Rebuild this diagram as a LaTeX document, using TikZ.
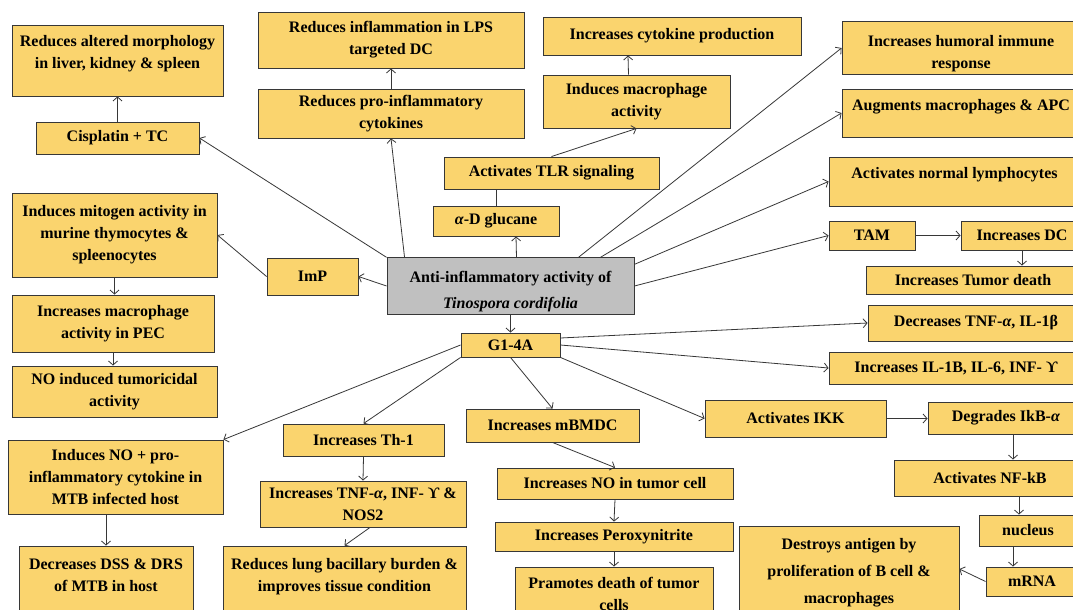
\documentclass[tikz,border=0pt]{standalone}
\usepackage{fontspec}
\setmainfont{Liberation Serif}
\usetikzlibrary{arrows.meta}
\definecolor{boxfill}{RGB}{250,212,110}
\definecolor{hubfill}{RGB}{192,192,192}
\definecolor{edgegray}{RGB}{55,55,55}
\newcommand{\galpha}{\textit{α}}
\newcommand{\gupsilon}{ϒ}

\begin{document}
\begin{tikzpicture}[x=1pt, y=-1pt,
    box/.style={draw=edgegray, fill=boxfill, line width=0.9pt, align=center,
      font=\fontsize{16}{22}\selectfont\bfseries, inner sep=2pt},
    hub/.style={box, fill=hubfill, font=\fontsize{16}{26}\selectfont\bfseries},
    arr/.style={draw=edgegray, line width=0.8pt, -{Straight Barb[length=4pt,width=9pt]}},
    link/.style={draw=edgegray, line width=0.8pt}]
  \useasboundingbox[fill=white] (0,0) rectangle (1073,610);

  % centre
  \node[hub, minimum width=247pt, minimum height=50pt] (main) at (510.5,286)
    {\mbox{}\\[-3pt]Anti-inflammatory activity of\\ \textit{Tinospora cordifolia}};

  % upper left
  \node[box, minimum width=211pt, minimum height=71pt] (morph) at (117.5,60.5)
    {Reduces altered morphology\\ in liver, kidney \& spleen\\[-4pt]\mbox{}};
  \node[box, minimum width=163pt, minimum height=32pt] (cis) at (117.5,138) {Cisplatin + TC};
  \node[box, minimum width=266pt, minimum height=56pt] (lps) at (391,40)
    {Reduces inflammation in LPS\\ targeted DC};
  \node[box, minimum width=266pt, minimum height=49pt] (pro) at (391,113.5)
    {Reduces pro-inflammatory\\ cytokines};

  % upper middle
  \node[box, minimum width=258pt, minimum height=38pt] (cyto) at (672,36) {Increases cytokine production};
  \node[box, minimum width=187pt, minimum height=53pt] (mac) at (636.5,101.5)
    {Induces macrophage\\ activity};
  \node[box, minimum width=215pt, minimum height=32pt] (tlr) at (551.5,173) {Activates TLR signaling};
  \node[box, minimum width=126pt, minimum height=30pt] (glucane) at (496,221) {\galpha-D glucane};

  % upper right
  \node[box, minimum width=238pt, minimum height=48pt] (humoral) at (961,48)
    {\mbox{}\\[1pt]Increases humoral immune\\ response};
  \node[box, minimum width=238pt, minimum height=48pt] (apc) at (961,113)
    {Augments macrophages \& APC\\[-6pt]\mbox{}};
  \node[box, minimum width=251pt, minimum height=49pt] (lymph) at (954.5,181.5)
    {Activates normal lymphocytes\\[-4pt]\mbox{}};
  \node[box, minimum width=86pt, minimum height=29pt] (tam) at (872,235.5) {TAM};
  \node[box, minimum width=122pt, minimum height=29pt] (incdc) at (1022,235.5) {Increases DC};
  \node[box, minimum width=214pt, minimum height=28pt] (tumor) at (973,280) {Increases Tumor death};

  % left column
  \node[box, minimum width=205pt, minimum height=84pt] (mitogen) at (114.5,235)
    {Induces mitogen activity in\\ murine thymocytes \&\\ spleenocytes};
  \node[box, minimum width=202pt, minimum height=57pt] (pec) at (113,323.5)
    {Increases macrophage\\ activity in PEC};
  \node[box, minimum width=205pt, minimum height=51pt] (noind) at (114.5,391.5)
    {NO induced tumoricidal\\ activity};
  \node[box, minimum width=91pt, minimum height=37pt] (imp) at (312.5,276.5) {ImP};

  % G1-4A branch
  \node[box, minimum width=99pt, minimum height=24pt] (g14a) at (510.5,345) {G1-4A};
  \node[box, minimum width=216pt, minimum height=36pt] (dectnf) at (976,323)
    {Decreases TNF-\galpha, IL-1β};
  \node[box, minimum width=254pt, minimum height=32pt] (incil) at (956,368)
    {Increases IL-1B, IL-6, INF- \gupsilon};
  \node[box, minimum width=181pt, minimum height=37pt] (ikk) at (795.5,418.5) {Activates IKK};
  \node[box, minimum width=156pt, minimum height=32pt] (ikb) at (1006,418) {Degrades IkB-\galpha};
  \node[box, minimum width=192pt, minimum height=36pt] (nfkb) at (990,478) {Activates NF-kB};
  \node[box, minimum width=98pt, minimum height=31pt] (nucleus) at (1028,530.5) {nucleus};
  \node[box, minimum width=92pt, minimum height=29pt] (mrna) at (1032,581.5) {mRNA};
  \node[box, minimum width=220pt, minimum height=94pt, font=\fontsize{16}{27}\selectfont\bfseries]
    (destroys) at (849,573)
    {Destroys antigen by\\ proliferation of B cell \&\\ macrophages};

  \node[box, minimum width=215pt, minimum height=74pt] (inducesno) at (115.5,477)
    {Induces NO + pro-\\ inflammatory cytokine in\\ MTB infected host};
  \node[box, minimum width=174pt, minimum height=78pt] (dss) at (106,585)
    {Decreases DSS \& DRS\\ of MTB in host\\[-2pt]\mbox{}};
  \node[box, minimum width=161pt, minimum height=32pt] (th1) at (363.5,440) {Increases Th-1};
  \node[box, minimum width=206pt, minimum height=46pt] (tnfinf) at (363,504)
    {Increases TNF-\galpha, INF- \gupsilon\ \&\\ NOS2};
  \node[box, minimum width=243pt, minimum height=78pt] (lung) at (344.5,585)
    {Reduces lung bacillary burden \&\\ improves tissue condition\\[-2pt]\mbox{}};

  \node[box, minimum width=173pt, minimum height=33pt] (mbmdc) at (552.5,425.5) {Increases mBMDC};
  \node[box, minimum width=236pt, minimum height=31pt] (notumor) at (615,483.5) {Increases NO in tumor cell};
  \node[box, minimum width=238pt, minimum height=29pt] (perox) at (614,536.5) {Increases Peroxynitrite};
  \node[box, minimum width=198pt, minimum height=76pt] (pramotes) at (614,605)
    {Pramotes death of tumor\\ cells\\ \mbox{}};

  % arrows from the centre
  \draw[arr] (main.north west) -- (cis.east);
  \draw[arr] ([xshift=18pt]main.north west) -- (pro.south);
  \draw[arr] (main.west) -- (imp.east);
  \draw[arr] ([xshift=6pt]main.north) -- ([xshift=20pt]glucane.south);
  \draw[arr] ([xshift=-56pt]main.north east) -- (humoral.west);
  \draw[arr] ([xshift=-34pt]main.north east) -- (apc.west);
  \draw[arr] ([yshift=-7pt]main.north east) -- (lymph.west);
  \draw[arr] (main.east) -- (tam.west);
  \draw[arr] (main.south) -- (g14a.north);

  % upper chains
  \draw[arr] (cis.north) -- (morph.south);
  \draw[arr] (pro.north) -- (lps.south);
  \draw[link] (glucane.north) -- ([xshift=-55.5pt]tlr.south);
  \draw[arr] (tlr.north) -- (mac.south);
  \draw[arr] ([xshift=-8pt]mac.north) -- ([xshift=-44pt]cyto.south);
  \draw[arr] (tam.east) -- (incdc.west);
  \draw[arr] (incdc.south) -- (incdc.south |- tumor.north);

  % left chain
  \draw[arr] (imp.west) -- (mitogen.east);
  \draw[arr] (mitogen.south) -- (mitogen.south |- pec.north);
  \draw[arr] (pec.south) -- (pec.south |- noind.north);

  % G1-4A arrows
  \draw[arr] ([yshift=7pt]g14a.east) -- (dectnf.west);
  \draw[arr] (g14a.east) -- (incil.west);
  \draw[arr] (g14a.south east) -- (ikk.west);
  \draw[arr] (g14a.south) -- (mbmdc.north);
  \draw[arr] (g14a.south west) -- (th1.north);
  \draw[arr] (g14a.west) -- (inducesno.north east);

  % lower chains
  \draw[arr] ([xshift=-9.5pt]inducesno.south) -- (dss.north);
  \draw[arr] (th1.south) -- (tnfinf.north);
  \draw[arr] ([xshift=7pt]tnfinf.south) -- (lung.north);
  \draw[arr] (mbmdc.south) -- (notumor.north);
  \draw[arr] (notumor.south) -- (perox.north);
  \draw[arr] (perox.south) -- (pramotes.north);
  \draw[arr] (ikk.east) -- (ikk.east -| ikb.west);
  \draw[arr] ([xshift=7pt]ikb.south) -- ([xshift=23pt]nfkb.north);
  \draw[arr] ([xshift=29pt]nfkb.south) -- ([xshift=-9pt]nucleus.north);
  \draw[arr] ([xshift=-15pt]nucleus.south) -- ([xshift=-19pt]mrna.north);
  \draw[arr] (mrna.west) -- ([yshift=4pt]destroys.east);
\end{tikzpicture}
\end{document}
